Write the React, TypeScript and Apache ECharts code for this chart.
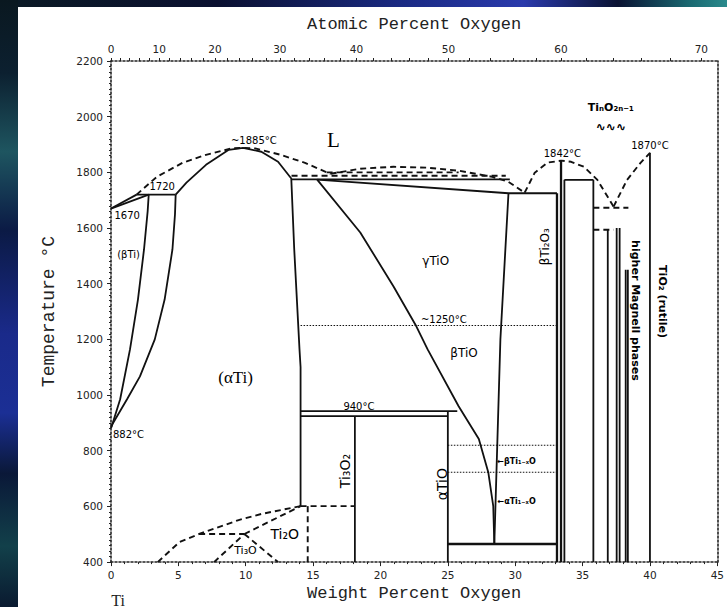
import React, { useEffect, useRef } from "react";
import * as echarts from "echarts";

const W = 727;
const H = 607;

// ---- axis ticks ----
const weightTicks = [0, 5, 10, 15, 20, 25, 30, 35, 40, 45];
const atomicTicks = [0, 10, 20, 30, 40, 50, 60, 70];
const atomicMinorTicks = [0, 2, 4, 6, 8, 10, 12, 14, 16, 18, 20, 22, 24, 26, 28, 30, 32, 34, 36, 38, 40, 42, 44, 46, 48, 50, 52, 54, 56, 58, 60, 62, 64, 66, 68, 70, 72];
const tempTicks = [400, 600, 800, 1000, 1200, 1400, 1600, 1800, 2000, 2200];

// atomic % O <-> weight % O (Ti = 47.867, O = 15.999)
const toWt = (a: number) => ((15.999 * a) / (15.999 * a + 47.867 * (100 - a))) * 100;
const toAt = (w: number) => {
  const o = w / 15.999;
  const t = (100 - w) / 47.867;
  return (o / (o + t)) * 100;
};

// ---- phase boundaries: [wt% O, °C] ----
// solid
const betaTiLiquidus = [[0, 1670], [1.9, 1720]];
const betaTiSolidus = [[0, 1670], [2.8, 1720]];
const peritectic1720 = [[1.9, 1720], [4.8, 1720]];
const betaTransus = [[0, 882], [0.1, 895], [0.68, 985], [1.41, 1164], [2.0, 1343], [2.45, 1523], [2.72, 1660], [2.8, 1720]];
const alphaTransus = [[0, 882], [0.1, 895], [1.19, 985], [2.15, 1067], [3.25, 1200], [3.98, 1343], [4.56, 1523], [4.75, 1650], [4.8, 1720]];
const alphaTiBoundary = [[4.8, 1720], [5.6, 1763], [7.05, 1827], [8.74, 1881], [9.8, 1888], [11.16, 1874], [12.4, 1838], [13.38, 1778], [13.6, 1523], [13.99, 1164], [14.07, 1100], [14.07, 601]];
const horiz1775 = [[13.38, 1775], [29.6, 1775]];
const gammaTiOTop = [[15.3, 1774], [29.5, 1725], [33.1, 1725]];
const gammaBetaTiO = [[15.3, 1774], [18.5, 1584], [20.97, 1390], [22.66, 1247], [23.5, 1164], [25.8, 960], [27.3, 842], [28.0, 723], [28.37, 601], [28.45, 465]];
const tioRight = [[29.5, 1725], [28.9, 1200], [28.45, 465]];
const line940 = [[14.07, 942], [25.7, 942]];
const line925 = [[14.07, 924], [25.0, 924]];
const ti3o2Line = [[18.1, 924], [18.1, 400]];
const alphaTiOLine = [[25.0, 942], [25.0, 400]];
const eutectoid465 = [[25.0, 465], [33.1, 465]];
const ti2o3Left = [[33.1, 1725], [33.1, 400]];
const ti2o3Right = [[33.4, 1842], [33.4, 400]];
const ti3o5Left = [[33.65, 1773], [33.65, 400]];
const ti3o5Top = [[33.65, 1773], [35.8, 1773]];
const ti3o5Right = [[35.8, 1773], [35.8, 400]];
const magneli1 = [[36.87, 1594], [36.87, 400]];
const magneli2 = [[37.53, 1600], [37.53, 400]];
const magneli3 = [[37.75, 1600], [37.75, 400]];
const magneli4 = [[38.2, 1450], [38.2, 400]];
const magneli5 = [[38.36, 1450], [38.36, 400]];
const rutileLine = [[40.0, 1870], [40.0, 400]];

// dashed
const liquidusA = [[1.9, 1720], [3.4, 1784], [5.3, 1834], [7.05, 1863], [8.96, 1886], [9.8, 1888], [10.7, 1886], [12.6, 1863], [14.4, 1834], [16.07, 1799], [16.3, 1795]];
const liquidusB = [[16.3, 1795], [18.5, 1813], [20.97, 1820], [23.4, 1817], [25.8, 1806], [28.3, 1784], [29.5, 1766], [30.7, 1727]];
const liquidusC = [[30.7, 1727], [31.45, 1799], [32.4, 1835], [33.4, 1842], [34.15, 1838], [35.1, 1820], [36.1, 1773], [37.3, 1677]];
const liquidusD = [[37.3, 1677], [38.3, 1773], [39.3, 1834], [40.0, 1870]];
const monotecticA = [[13.4, 1788], [29.3, 1788]];
const monotecticB = [[16.0, 1800], [25.8, 1800]];
const dashed1673 = [[35.8, 1673], [38.4, 1673]];
const dashed1594 = [[35.8, 1594], [37.3, 1594]];
const ti2oUpper = [[3.47, 400], [5.08, 472], [6.54, 501], [9.47, 551], [11.16, 573], [14.07, 601]];
const ti2o500 = [[6.54, 501], [9.9, 501]];
const ti3oLeft = [[7.65, 400], [9.9, 501]];
const ti3oUpper = [[9.9, 501], [14.07, 601]];
const ti3oRight = [[9.9, 501], [12.4, 400]];
const ti2oRight = [[14.6, 601], [14.6, 400]];
const dashed600 = [[14.07, 601], [18.1, 601]];

// dotted
const dotted1250 = [[14.07, 1250], [33.1, 1250]];
const dotted820 = [[25.0, 820], [33.1, 820]];
const dotted723 = [[25.0, 723], [33.1, 723]];

const solidLines = [betaTiLiquidus, betaTiSolidus, peritectic1720, betaTransus, alphaTransus, alphaTiBoundary, horiz1775, gammaTiOTop, gammaBetaTiO, tioRight, line940, line925, ti3o2Line, alphaTiOLine, ti3o5Left, ti3o5Top, ti3o5Right, magneli1, magneli2, magneli3, magneli4, magneli5, rutileLine];
const thickLines = [eutectoid465, ti2o3Left, ti2o3Right];
const dashedLines = [liquidusA, liquidusB, liquidusC, liquidusD, monotecticA, monotecticB, dashed1673, dashed1594, ti2oUpper, ti2o500, ti3oLeft, ti3oUpper, ti3oRight, ti2oRight, dashed600];
const dottedLines = [dotted1250, dotted820, dotted723];

// ---- annotations: text, wt%, °C, font size, rotation, family, weight ----
const SANS = "DejaVu Sans";
const SERIF = "Liberation Serif";
const MONO = "Liberation Mono";
const annotations: [string, number, number, number, number, string, string][] = [
  ["L", 16.5, 1917, 21, 0, SERIF, "normal"],
  ["~1885°C", 10.6, 1913, 10, 0, SANS, "normal"],
  ["1720", 3.8, 1748, 10, 0, SANS, "normal"],
  ["1670", 1.2, 1644, 10, 0, SANS, "normal"],
  ["(βTi)", 1.3, 1505, 10, 0, SANS, "normal"],
  ["(αTi)", 9.25, 1064, 17, 0, SERIF, "normal"],
  ["882°C", 1.3, 860, 10, 0, SANS, "normal"],
  ["γTiO", 24.1, 1480, 12, 0, SANS, "normal"],
  ["~1250°C", 24.7, 1272, 10, 0, SANS, "normal"],
  ["βTiO", 26.2, 1150, 12, 0, SANS, "normal"],
  ["940°C", 18.4, 960, 10, 0, SANS, "normal"],
  ["Ti₃O₂", 17.4, 727, 14, 90, SANS, "normal"],
  ["αTiO", 24.6, 680, 14, 90, SANS, "normal"],
  ["Ti₂O", 12.9, 501, 14, 0, SANS, "normal"],
  ["Ti₃O", 9.98, 440, 11, 0, SANS, "normal"],
  ["←βTi₁₋ₓO", 30.1, 763, 8, 0, SANS, "bold"],
  ["←αTi₁₋ₓO", 30.1, 616, 8, 0, SANS, "bold"],
  ["βTi₂O₃", 32.2, 1533, 12, 90, SANS, "normal"],
  ["higher Magnell phases", 38.95, 1304, 11, -90, SANS, "bold"],
  ["TiO₂ (rutile)", 40.95, 1336, 11, -90, SANS, "bold"],
  ["TiₙO₂ₙ₋₁", 37.1, 2032, 11, 0, SANS, "bold"],
  ["∿∿∿", 37.1, 1962, 12, 0, SANS, "bold"],
  ["1842°C", 33.5, 1866, 10, 0, SANS, "normal"],
  ["1870°C", 40.0, 1895, 10, 0, SANS, "normal"],
];

export default function App() {
  const ref = useRef<HTMLDivElement>(null);

  useEffect(() => {
    if (!ref.current) return;
    const chart = echarts.init(ref.current, undefined, { renderer: "svg" });

    const mk = (data: number[][], type: any, width: number) => ({
      type: "line",
      data,
      symbol: "none",
      showSymbol: false,
      silent: true,
      xAxisIndex: 0,
      yAxisIndex: 0,
      lineStyle: { color: "#111", width, type },
      z: 3,
    });

    const series: any[] = [
      ...solidLines.map((d) => mk(d, "solid", 1.8)),
      ...thickLines.map((d) => mk(d, "solid", 2.3)),
      ...dashedLines.map((d) => mk(d, [6, 4], 1.9)),
      ...dottedLines.map((d) => mk(d, [1.5, 1.5], 1.1)),
      {
        type: "scatter",
        symbolSize: 0,
        silent: true,
        xAxisIndex: 0,
        yAxisIndex: 0,
        z: 5,
        itemStyle: { opacity: 1, color: "#000" },
        data: annotations.map(([text, w, t, size, rot, fam, weight]) => ({
          value: [w, t],
          label: {
            show: true,
            position: "inside",
            formatter: text,
            fontSize: size,
            fontFamily: fam,
            fontWeight: weight,
            rotate: rot,
            color: "#000",
            opacity: 1,
            textBorderWidth: 0,
          },
        })),
      },
    ];

    const axisLineStyle = { color: "#222", width: 1.6, type: [2, 2] as any };
    const tickLabel = { fontSize: 10.5, fontFamily: SANS, color: "#222" };

    chart.setOption({
      animation: false,
      backgroundColor: "#ffffff",
      grid: { left: 111, top: 61, width: 614, height: 502, containLabel: false },
      xAxis: [
        {
          type: "value",
          position: "bottom",
          min: 0,
          max: 45,
          interval: 5,
          axisLine: { show: true, onZero: false, lineStyle: axisLineStyle },
          axisTick: { show: true, length: 4, lineStyle: { color: "#222" } },
          minorTick: { show: true, splitNumber: 5, length: 2, lineStyle: { color: "#222" } },
          splitLine: { show: false },
          axisLabel: {
            ...tickLabel,
            margin: 7,
            customValues: weightTicks,
            formatter: (v: number) => String(v),
          },
          name: "Weight Percent Oxygen",
          nameLocation: "middle",
          nameGap: 21,
          nameTextStyle: { fontFamily: MONO, fontSize: 17, color: "#222" },
        },
        {
          type: "value",
          position: "top",
          min: 0,
          max: 45,
          axisLine: { show: true, onZero: false, lineStyle: axisLineStyle },
          axisTick: {
            show: true,
            length: 3,
            customValues: atomicMinorTicks.map(toWt).filter((v) => v <= 45),
            lineStyle: { color: "#222" },
          },
          splitLine: { show: false },
          axisLabel: {
            ...tickLabel,
            margin: 7,
            customValues: atomicTicks.map(toWt),
            formatter: (v: number) => String(Math.round(toAt(v))),
          },
          name: "Atomic Percent Oxygen",
          nameLocation: "middle",
          nameGap: 28,
          nameTextStyle: { fontFamily: MONO, fontSize: 17, color: "#222" },
        },
      ],
      yAxis: [
        {
          type: "value",
          position: "left",
          min: 400,
          max: 2200,
          interval: 200,
          axisLine: { show: true, onZero: false, lineStyle: axisLineStyle },
          axisTick: { show: true, length: 4, lineStyle: { color: "#222" } },
          minorTick: { show: true, splitNumber: 10, length: 2, lineStyle: { color: "#222" } },
          splitLine: { show: false },
          axisLabel: {
            ...tickLabel,
            margin: 8,
            customValues: tempTicks,
            formatter: (v: number) => String(v),
          },
          name: "Temperature °C",
          nameLocation: "middle",
          nameGap: 53,
          nameTextStyle: { fontFamily: MONO, fontSize: 18, color: "#222" },
        },
        {
          type: "value",
          position: "right",
          min: 400,
          max: 2200,
          interval: 200,
          axisLine: { show: true, onZero: false, lineStyle: axisLineStyle },
          axisTick: { show: false },
          axisLabel: { show: false },
          splitLine: { show: false },
        },
      ],
      graphic: [
        {
          type: "rect",
          silent: true,
          shape: { x: 0, y: 0, width: W, height: 7 },
          style: {
            fill: new echarts.graphic.LinearGradient(0, 0, 1, 0, [
              { offset: 0, color: "#0b1a24" },
              { offset: 0.3, color: "#0a1030" },
              { offset: 0.55, color: "#1a2a82" },
              { offset: 0.72, color: "#2a3aac" },
              { offset: 0.85, color: "#0a1232" },
              { offset: 0.95, color: "#1a6a72" },
              { offset: 1, color: "#2a8a8c" },
            ]),
          },
        },
        {
          type: "rect",
          silent: true,
          shape: { x: 0, y: 0, width: 18, height: H },
          style: {
            fill: new echarts.graphic.LinearGradient(0, 0, 0, 1, [
              { offset: 0, color: "#0a1820" },
              { offset: 0.12, color: "#0c2030" },
              { offset: 0.25, color: "#1e5560" },
              { offset: 0.38, color: "#0b1a45" },
              { offset: 0.55, color: "#1a2a8a" },
              { offset: 0.68, color: "#1b2f95" },
              { offset: 0.78, color: "#0a1838" },
              { offset: 0.9, color: "#12404a" },
              { offset: 1, color: "#0a1a30" },
            ]),
          },
        },
        {
          type: "text",
          silent: true,
          x: 118,
          y: 600,
          style: {
            text: "Ti",
            fontFamily: SERIF,
            fontSize: 16,
            fill: "#222",
            align: "center",
            verticalAlign: "middle",
          },
        },
      ],
      series,
    });

    return () => chart.dispose();
  }, []);

  return (
    <div
      ref={ref}
      style={{ position: "fixed", left: 0, top: 0, width: W, height: H }}
    />
  );
}
